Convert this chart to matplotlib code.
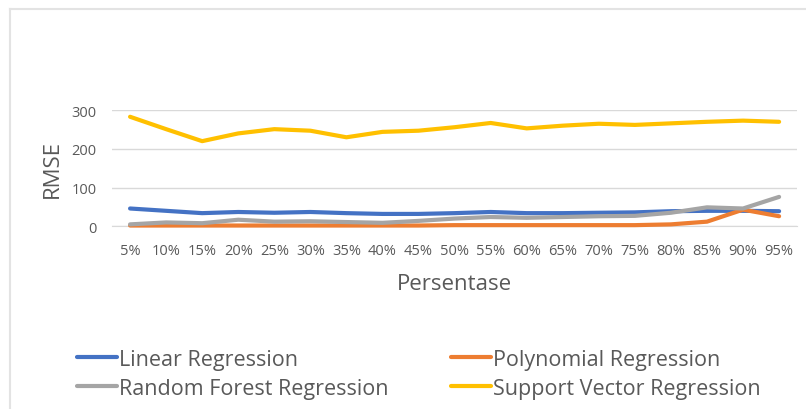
import matplotlib
matplotlib.use("Agg")
import matplotlib.pyplot as plt
from matplotlib.lines import Line2D

# Kategori persentase data latih
persentase = ["5%", "10%", "15%", "20%", "25%", "30%", "35%", "40%", "45%", "50%",
              "55%", "60%", "65%", "70%", "75%", "80%", "85%", "90%", "95%"]

# Nilai RMSE per model
linear_reg = [46, 40, 34, 37, 35, 37, 34, 32, 32, 34, 37, 34, 34, 35, 36, 39, 40, 40, 39]
polynomial_reg = [2, 2, 2, 2, 2, 2, 2, 2, 2, 3, 3, 3, 3, 3, 3, 5, 12, 43, 26]
random_forest_reg = [5, 10, 8, 17, 12, 13, 11, 9, 14, 20, 24, 22, 24, 26, 27, 35, 49, 46, 76]
svr = [283, 251, 220, 240, 251, 247, 230, 244, 247, 256, 267, 253, 260, 265, 262, 266, 270, 273, 270]

series = [
    ("Linear Regression", linear_reg, "#4472C4"),
    ("Polynomial Regression", polynomial_reg, "#ED7D31"),
    ("Random Forest Regression", random_forest_reg, "#A5A5A5"),
    ("Support Vector Regression", svr, "#FFC000"),
]

plt.rcParams['font.family'] = ['Open Sans', 'DejaVu Sans']
text_color = "#595959"

fig = plt.figure(figsize=(8.06, 4.10), dpi=100)
ax = fig.add_axes([0.139, 0.4456, 0.850, 0.2832])

x = list(range(len(persentase)))
handles = {}
for label, values, color in series:
    line, = ax.plot(x, values, color=color, linewidth=3, label=label,
                    solid_capstyle='round', clip_on=False, zorder=3)
    handles[label] = line

ax.set_xlim(-0.5, len(persentase) - 0.5)
ax.set_ylim(0, 300)
ax.set_yticks([0, 100, 200, 300])
ax.set_xticks(x)
ax.set_xticklabels(persentase)
ax.grid(axis='y', color="#D9D9D9", linewidth=1)
ax.set_axisbelow(True)
for s in ["top", "right", "left"]:
    ax.spines[s].set_visible(False)
ax.spines["bottom"].set_color("#D9D9D9")
ax.tick_params(axis='both', length=0, labelsize=10.5, colors=text_color)
ax.tick_params(axis='y', pad=11)
ax.tick_params(axis='x', pad=12)

ax.set_ylabel("RMSE", fontsize=16, color=text_color, labelpad=6)
ax.set_xlabel("Persentase", fontsize=16, color=text_color, labelpad=11)

# urutan legenda dibaca per baris: Linear | Polynomial, Random Forest | SVR
order = ["Linear Regression", "Random Forest Regression",
         "Polynomial Regression", "Support Vector Regression"]
leg = fig.legend([handles[k] for k in order], order,
                 loc='upper left', bbox_to_anchor=(0.095, 0.147), ncol=2,
                 frameon=False, fontsize=15.5, handlelength=1.86,
                 handletextpad=0.1, columnspacing=2.92, labelspacing=0.38,
                 borderaxespad=0, borderpad=0)
for t in leg.get_texts():
    t.set_color(text_color)

# bingkai area grafik
fig.add_artist(Line2D([0.0124, 0.0124], [0, 0.976], color="#E3E3E3", linewidth=1.5))
fig.add_artist(Line2D([0.0124, 1.0], [0.976, 0.976], color="#E3E3E3", linewidth=1.5))

fig.savefig("out.png", dpi=100, facecolor="white")
